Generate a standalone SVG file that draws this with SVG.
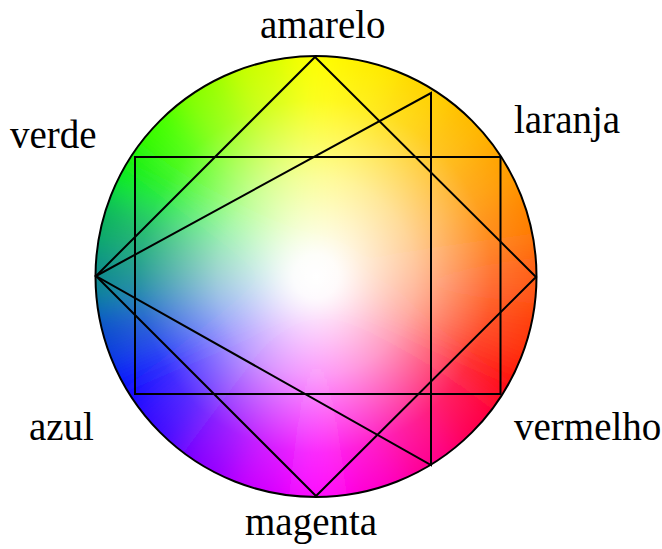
<svg xmlns="http://www.w3.org/2000/svg" xmlns:xlink="http://www.w3.org/1999/xlink" width="662" height="549" viewBox="0 0 662 549">
<style>
  .lbl { font-family: "Liberation Serif", "Times New Roman", serif; font-size: 39px; fill: #000; }
  .ln { stroke: #000; stroke-width: 2; fill: none; stroke-linejoin: miter; }
</style>
<defs>
  <path id="w" d="M0 0 L-46 -327 L46 -327 Z"/>
  <clipPath id="cc"><circle cx="316" cy="276.5" r="220.5"/></clipPath>
  <filter id="bl" x="-20%" y="-20%" width="140%" height="140%"><feGaussianBlur stdDeviation="18"/></filter>
  <radialGradient id="wh" cx="316" cy="276.5" r="220.5" gradientUnits="userSpaceOnUse">
    <stop offset="0" stop-color="#fff" stop-opacity="1"/>
    <stop offset="0.1" stop-color="#fff" stop-opacity="0.97"/>
    <stop offset="0.45" stop-color="#fff" stop-opacity="0.6"/>
    <stop offset="0.8" stop-color="#fff" stop-opacity="0.12"/>
    <stop offset="1" stop-color="#fff" stop-opacity="0"/>
  </radialGradient>
</defs>
<rect width="662" height="549" fill="#fff"/>
<g id="wheel">
  <g clip-path="url(#cc)">
    <g filter="url(#bl)" transform="translate(316 276.5)">
      <use xlink:href="#w" fill="#ffff00"/>
      <use xlink:href="#w" transform="rotate(15)" fill="#ffee00"/>
      <use xlink:href="#w" transform="rotate(30)" fill="#ffd500"/>
      <use xlink:href="#w" transform="rotate(45)" fill="#ffbb00"/>
      <use xlink:href="#w" transform="rotate(60)" fill="#ffa000"/>
      <use xlink:href="#w" transform="rotate(75)" fill="#ff8200"/>
      <use xlink:href="#w" transform="rotate(90)" fill="#ff5e18"/>
      <use xlink:href="#w" transform="rotate(105)" fill="#ff3a10"/>
      <use xlink:href="#w" transform="rotate(120)" fill="#ff1010"/>
      <use xlink:href="#w" transform="rotate(135)" fill="#ff0050"/>
      <use xlink:href="#w" transform="rotate(150)" fill="#ff0090"/>
      <use xlink:href="#w" transform="rotate(165)" fill="#ff00cc"/>
      <use xlink:href="#w" transform="rotate(180)" fill="#ff10ff"/>
      <use xlink:href="#w" transform="rotate(195)" fill="#d000ff"/>
      <use xlink:href="#w" transform="rotate(210)" fill="#9000ff"/>
      <use xlink:href="#w" transform="rotate(225)" fill="#4010ff"/>
      <use xlink:href="#w" transform="rotate(240)" fill="#1010ff"/>
      <use xlink:href="#w" transform="rotate(255)" fill="#1048d0"/>
      <use xlink:href="#w" transform="rotate(270)" fill="#108a8c"/>
      <use xlink:href="#w" transform="rotate(285)" fill="#10b060"/>
      <use xlink:href="#w" transform="rotate(300)" fill="#10f010"/>
      <use xlink:href="#w" transform="rotate(315)" fill="#40ff00"/>
      <use xlink:href="#w" transform="rotate(330)" fill="#90ff00"/>
      <use xlink:href="#w" transform="rotate(345)" fill="#d0ff00"/>
    </g>
    <circle cx="316" cy="276.5" r="221" fill="url(#wh)"/>
  </g>
  <circle cx="316" cy="276.5" r="220.5" fill="none" stroke="#000" stroke-width="2"/>
</g>
<g id="connectors">
  <polygon class="ln" points="315,57 536,277 316,496 96,276"/>
  <polygon class="ln" points="96,276 431,93 431,465"/>
  <rect class="ln" x="135" y="157" width="365.5" height="237"/>
</g>
<g id="labels">
  <text id="amarelo" class="lbl" x="260" y="38">amarelo</text>
  <text id="laranja" class="lbl" x="514" y="133">laranja</text>
  <text id="verde" class="lbl" x="10" y="148">verde</text>
  <text id="azul" class="lbl" x="29" y="440">azul</text>
  <text id="vermelho" class="lbl" x="514" y="440">vermelho</text>
  <text id="magenta" class="lbl" x="245" y="535">magenta</text>
</g>
</svg>
